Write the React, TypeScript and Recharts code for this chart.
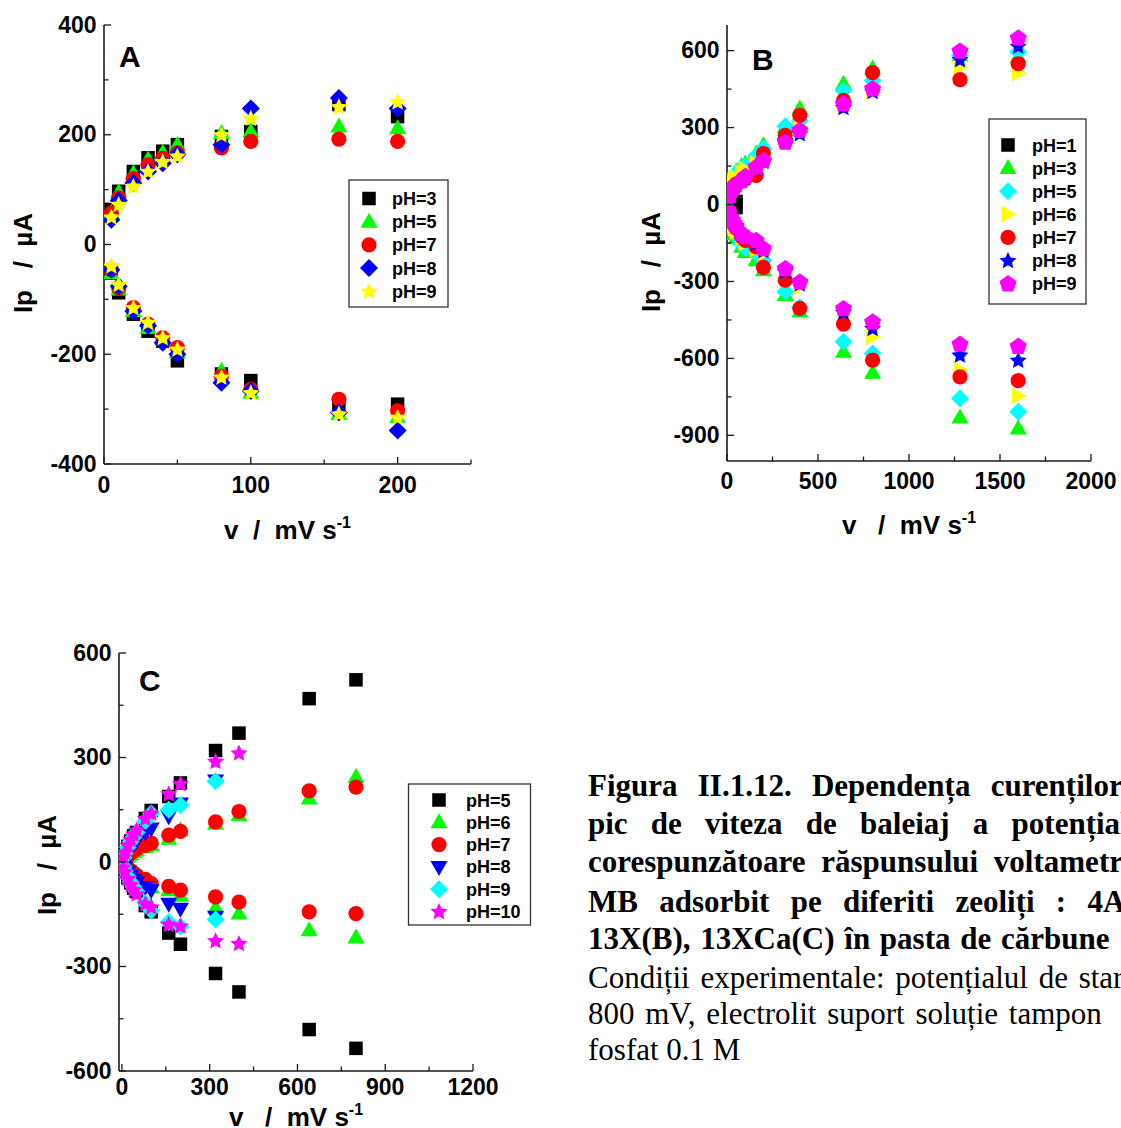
import React from 'react';
import { ScatterChart, Scatter, XAxis, YAxis } from 'recharts';

const SANS = '"Liberation Sans", Arial, Helvetica, sans-serif';
const SERIF = '"Liberation Serif", "Times New Roman", serif';
const AXIS = '#1a1a1a';
const NB = '\u00A0';

// ---------- Panel A (4A zeolite) ----------
const A_V = [5, 10, 20, 30, 40, 50, 80, 100, 160, 200];
const A_PH3_OX = [64, 97, 133, 158, 170, 182, 197, 206, 255, 233];
const A_PH3_RED = [-52, -88, -127, -158, -176, -212, -236, -248, -294, -291];
const A_PH5_OX = [58, 95, 130, 155, 167, 182, 203, 206, 215, 212];
const A_PH5_RED = [-52, -82, -121, -152, -173, -197, -230, -270, -309, -315];
const A_PH7_OX = [57, 85, 120, 145, 157, 167, 176, 188, 192, 188];
const A_PH7_RED = [-46, -79, -115, -145, -170, -188, -240, -264, -282, -303];
const A_PH8_OX = [45, 80, 112, 133, 148, 164, 182, 248, 267, 248];
const A_PH8_RED = [-46, -76, -121, -148, -179, -200, -252, -267, -306, -339];
const A_PH9_OX = [50, 73, 106, 133, 151, 161, 200, 230, 251, 260];
const A_PH9_RED = [-39, -73, -115, -142, -170, -191, -242, -270, -309, -315];
const A_X_TICKS = [0, 50, 100, 150, 200, 250];
const A_X_LABELS = [0, 100, 200];
const A_Y_TICKS = [-400, -300, -200, -100, 0, 100, 200, 300, 400];
const A_Y_LABELS = [-400, -200, 0, 200, 400];

// ---------- Panel B (13X zeolite) ----------
const B_V = [5, 10, 20, 30, 40, 50, 80, 100, 160, 200, 320, 400, 640, 800, 1280, 1600];
const B_V1 = [5, 10, 20, 30, 40, 50];
const B_PH1_OX = [4, 6, 8, 10, 11, 12];
const B_PH1_RED = [-4, -6, -8, -10, -11, -12];
const B_PH3_OX = [30, 50, 80, 100, 118, 130, 150, 160, 199, 231, 302, 374, 471, 530, 582, 575];
const B_PH3_RED = [-25, -45, -75, -95, -115, -130, -165, -185, -217, -256, -353, -417, -574, -656, -830, -873];
const B_PH5_OX = [28, 45, 72, 92, 110, 122, 140, 150, 190, 218, 305, 328, 445, 484, 580, 595];
const B_PH5_RED = [-25, -42, -70, -90, -108, -122, -155, -170, -191, -218, -340, -401, -535, -581, -756, -808];
const B_PH6_OX = [25, 40, 62, 80, 95, 105, 125, 138, 160, 186, 250, 296, 385, 441, 536, 513];
const B_PH6_RED = [-22, -38, -60, -78, -92, -105, -130, -150, -175, -191, -275, -321, -439, -516, -645, -747];
const B_PH7_OX = [22, 35, 52, 64, 72, 80, 92, 100, 114, 199, 270, 348, 406, 514, 487, 549];
const B_PH7_RED = [-20, -33, -50, -65, -80, -92, -125, -140, -165, -245, -295, -405, -466, -607, -672, -687];
const B_PH8_OX = [22, 36, 52, 62, 70, 78, 92, 105, 140, 168, 250, 276, 378, 441, 565, 617];
const B_PH8_RED = [-20, -32, -50, -60, -72, -82, -108, -120, -150, -180, -260, -310, -420, -483, -587, -607];
const B_PH9_OX = [25, 35, 50, 60, 70, 78, 95, 110, 147, 173, 244, 290, 393, 452, 599, 650];
const B_PH9_RED = [-20, -30, -50, -62, -75, -85, -112, -125, -139, -171, -249, -301, -405, -457, -544, -552];
const B_X_TICKS = [0, 250, 500, 750, 1000, 1250, 1500, 1750, 2000];
const B_X_LABELS = [0, 500, 1000, 1500, 2000];
const B_Y_TICKS = [-900, -750, -600, -450, -300, -150, 0, 150, 300, 450, 600];
const B_Y_LABELS = [-900, -600, -300, 0, 300, 600];

// ---------- Panel C (13XCa zeolite) ----------
const C_V = [5, 10, 20, 30, 40, 50, 80, 100, 160, 200, 320, 400, 640, 800];
const C_V320 = [5, 10, 20, 30, 40, 50, 80, 100, 160, 200, 320];
const C_V400 = [5, 10, 20, 30, 40, 50, 80, 100, 160, 200, 320, 400];
const C_PH5_OX = [15, 25, 45, 60, 75, 85, 125, 148, 188, 227, 320, 370, 469, 523];
const C_PH5_RED = [-15, -25, -45, -60, -75, -85, -125, -143, -204, -236, -320, -373, -481, -535];
const C_PH6_OX = [4, 8, 15, 22, 28, 33, 42, 48, 67, 91, 110, 134, 182, 244];
const C_PH6_RED = [-4, -8, -15, -22, -28, -35, -55, -73, -81, -97, -131, -148, -196, -217];
const C_PH7_OX = [5, 10, 18, 25, 32, 38, 48, 54, 77, 88, 115, 145, 204, 215];
const C_PH7_RED = [-5, -10, -18, -25, -32, -38, -50, -62, -70, -81, -100, -115, -143, -148];
const C_PH8_OX = [8, 15, 28, 40, 52, 62, 85, 96, 131, 168, 234];
const C_PH8_RED = [-8, -15, -28, -40, -50, -58, -72, -81, -120, -134, -157];
const C_PH9_OX = [12, 25, 42, 58, 72, 85, 118, 139, 150, 163, 232];
const C_PH9_RED = [-12, -25, -42, -58, -72, -85, -118, -139, -172, -186, -165];
const C_PH10_OX = [15, 28, 48, 65, 80, 92, 125, 140, 196, 225, 289, 313];
const C_PH10_RED = [-15, -28, -48, -65, -80, -92, -120, -129, -179, -184, -226, -234];
const C_X_TICKS = [0, 150, 300, 450, 600, 750, 900, 1050, 1200];
const C_X_LABELS = [0, 300, 600, 900, 1200];
const C_Y_TICKS = [-600, -450, -300, -150, 0, 150, 300, 450, 600];
const C_Y_LABELS = [-600, -300, 0, 300, 600];

// ---------- Caption ----------
const CAPTION_BOLD = [
  'Figura II.1.12. Dependența curenților de',
  'pic de viteza de baleiaj a potențialului',
  'corespunzătoare răspunsului voltametric al',
  'MB adsorbit pe diferiti zeoliți : 4A(A),',
  '13X(B), 13XCa(C) în pasta de cărbune',
];
const CAPTION_REGULAR = [
  'Condiții experimentale: potențialul de start',
  '800 mV, electrolit suport soluție tampon',
  'fosfat 0.1 M',
];
const CAPTION_WORD_SPACING = [12.5, 15.5, 8, 13.5, 2, 3, 3, 0];

type Kind = 'square' | 'triUp' | 'triDown' | 'triRight' | 'circle' | 'diamond' | 'star' | 'pentagon';
type Pt = { x: number; y: number };
type SeriesDef = { name: string; color: string; kind: Kind; data: Pt[] };

function pts(v: number[], ox: number[], red: number[]): Pt[] {
  return [...v.map((x, i) => ({ x, y: ox[i] })), ...v.map((x, i) => ({ x, y: red[i] }))];
}

function polyPoints(cx: number, cy: number, n: number, rOuter: number, rInner?: number) {
  const out: string[] = [];
  const count = rInner ? n * 2 : n;
  for (let i = 0; i < count; i++) {
    const r = rInner ? (i % 2 === 0 ? rOuter : rInner) : rOuter;
    const a = -Math.PI / 2 + (i * 2 * Math.PI) / count;
    out.push(`${cx + r * Math.cos(a)},${cy + r * Math.sin(a)}`);
  }
  return out.join(' ');
}

function Marker({ kind, cx, cy, fill }: { kind: Kind; cx: number; cy: number; fill: string }) {
  if (cx == null || cy == null || isNaN(cx) || isNaN(cy)) return null;
  switch (kind) {
    case 'square':
      return <rect x={cx - 6.75} y={cy - 6.75} width={13.5} height={13.5} fill={fill} />;
    case 'circle':
      return <circle cx={cx} cy={cy} r={7.6} fill={fill} />;
    case 'triUp':
      return <polygon points={`${cx},${cy - 9} ${cx - 8.5},${cy + 6} ${cx + 8.5},${cy + 6}`} fill={fill} />;
    case 'triDown':
      return <polygon points={`${cx},${cy + 9} ${cx - 8.5},${cy - 6} ${cx + 8.5},${cy - 6}`} fill={fill} />;
    case 'triRight':
      return <polygon points={`${cx + 8.5},${cy} ${cx - 6.5},${cy - 8.5} ${cx - 6.5},${cy + 8.5}`} fill={fill} />;
    case 'diamond':
      return <polygon points={`${cx},${cy - 9} ${cx + 9},${cy} ${cx},${cy + 9} ${cx - 9},${cy}`} fill={fill} />;
    case 'star':
      return <polygon points={polyPoints(cx, cy + 0.5, 5, 9, 4.3)} fill={fill} />;
    case 'pentagon':
      return <polygon points={polyPoints(cx, cy + 0.5, 5, 9)} fill={fill} />;
  }
  return null;
}

const A_SERIES: SeriesDef[] = [
  { name: 'pH=3', color: '#000000', kind: 'square', data: pts(A_V, A_PH3_OX, A_PH3_RED) },
  { name: 'pH=5', color: '#00FF00', kind: 'triUp', data: pts(A_V, A_PH5_OX, A_PH5_RED) },
  { name: 'pH=7', color: '#FF0000', kind: 'circle', data: pts(A_V, A_PH7_OX, A_PH7_RED) },
  { name: 'pH=8', color: '#0000FF', kind: 'diamond', data: pts(A_V, A_PH8_OX, A_PH8_RED) },
  { name: 'pH=9', color: '#FFFF00', kind: 'star', data: pts(A_V, A_PH9_OX, A_PH9_RED) },
];
const B_SERIES: SeriesDef[] = [
  { name: 'pH=1', color: '#000000', kind: 'square', data: pts(B_V1, B_PH1_OX, B_PH1_RED) },
  { name: 'pH=3', color: '#00FF00', kind: 'triUp', data: pts(B_V, B_PH3_OX, B_PH3_RED) },
  { name: 'pH=5', color: '#00FFFF', kind: 'diamond', data: pts(B_V, B_PH5_OX, B_PH5_RED) },
  { name: 'pH=6', color: '#FFFF00', kind: 'triRight', data: pts(B_V, B_PH6_OX, B_PH6_RED) },
  { name: 'pH=7', color: '#FF0000', kind: 'circle', data: pts(B_V, B_PH7_OX, B_PH7_RED) },
  { name: 'pH=8', color: '#0000FF', kind: 'star', data: pts(B_V, B_PH8_OX, B_PH8_RED) },
  { name: 'pH=9', color: '#FF00FF', kind: 'pentagon', data: pts(B_V, B_PH9_OX, B_PH9_RED) },
];
const C_SERIES: SeriesDef[] = [
  { name: 'pH=5', color: '#000000', kind: 'square', data: pts(C_V, C_PH5_OX, C_PH5_RED) },
  { name: 'pH=6', color: '#00FF00', kind: 'triUp', data: pts(C_V, C_PH6_OX, C_PH6_RED) },
  { name: 'pH=7', color: '#FF0000', kind: 'circle', data: pts(C_V, C_PH7_OX, C_PH7_RED) },
  { name: 'pH=8', color: '#0000FF', kind: 'triDown', data: pts(C_V320, C_PH8_OX, C_PH8_RED) },
  { name: 'pH=9', color: '#00FFFF', kind: 'diamond', data: pts(C_V320, C_PH9_OX, C_PH9_RED) },
  { name: 'pH=10', color: '#FF00FF', kind: 'star', data: pts(C_V400, C_PH10_OX, C_PH10_RED) },
];

const makeXTick = (labels: number[], dy: number) => (props: any) => {
  const { x, y, payload } = props;
  const major = labels.includes(payload.value);
  return (
    <g>
      <line x1={x} x2={x} y1={y} y2={y - (major ? 7 : 4.5)} stroke={AXIS} strokeWidth={1.3} />
      {major && (
        <text x={x} y={y + dy} textAnchor="middle" fontFamily={SANS} fontWeight="bold" fontSize={23} fill="#000">
          {String(payload.value)}
        </text>
      )}
    </g>
  );
};

const makeYTick = (labels: number[]) => (props: any) => {
  const { x, y, payload } = props;
  const major = labels.includes(payload.value);
  return (
    <g>
      <line x1={x} x2={x + (major ? 7 : 4.5)} y1={y} y2={y} stroke={AXIS} strokeWidth={1.3} />
      {major && (
        <text x={x - 7.5} y={y + 7.5} textAnchor="end" fontFamily={SANS} fontWeight="bold" fontSize={23} fill="#000">
          {String(payload.value)}
        </text>
      )}
    </g>
  );
};

const makeXTitle = (gapA: number, gapB: number, dy: number) => (props: any) => {
  const vb = props.viewBox || { x: 0, y: 0, width: 0, height: 0 };
  const cx = vb.x + vb.width / 2;
  return (
    <text x={cx} y={vb.y + dy} textAnchor="middle" fontFamily={SANS} fontWeight="bold" fontSize={26} fill="#000">
      <tspan>{'v' + NB.repeat(gapA) + '/' + NB.repeat(gapB) + 'mV s'}</tspan>
      <tspan dy={-11} fontSize={16}>-1</tspan>
    </text>
  );
};

const makeYTitle = (bx: number, cyOff: number) => (props: any) => {
  const vb = props.viewBox || { x: 0, y: 0, width: 0, height: 0 };
  const x = vb.x + bx;
  const y = vb.y + vb.height / 2 + cyOff;
  return (
    <text x={x} y={y} transform={`rotate(-90 ${x} ${y})`} textAnchor="middle" fontFamily={SANS} fontWeight="bold" fontSize={26} fill="#000">
      {'Ip' + NB.repeat(3) + '/' + NB.repeat(2) + '\u00B5A'}
    </text>
  );
};

type PanelProps = {
  width: number;
  height: number;
  margin: { top: number; right: number; bottom: number; left: number };
  yAxisWidth: number;
  xAxisHeight: number;
  xDomain: [number, number];
  yDomain: [number, number];
  xTicks: number[];
  xLabels: number[];
  yTicks: number[];
  yLabels: number[];
  xTickDy: number;
  series: SeriesDef[];
  xTitle: (p: any) => any;
  yTitle: (p: any) => any;
};

function Panel(p: PanelProps) {
  const line = { stroke: AXIS, strokeWidth: 1.6 };
  return (
    <ScatterChart width={p.width} height={p.height} margin={p.margin}>
      <XAxis
        type="number"
        dataKey="x"
        domain={p.xDomain}
        ticks={p.xTicks}
        interval={0}
        allowDataOverflow
        height={p.xAxisHeight}
        tickSize={0}
        tickMargin={0}
        tickLine={false}
        axisLine={line}
        tick={makeXTick(p.xLabels, p.xTickDy)}
        label={p.xTitle}
      />
      <YAxis
        type="number"
        dataKey="y"
        domain={p.yDomain}
        ticks={p.yTicks}
        interval={0}
        allowDataOverflow
        width={p.yAxisWidth}
        tickSize={0}
        tickMargin={0}
        tickLine={false}
        axisLine={line}
        tick={makeYTick(p.yLabels)}
        label={p.yTitle}
      />
      <XAxis xAxisId="top" orientation="top" type="number" domain={p.xDomain} allowDataOverflow height={0} tick={false} tickLine={false} axisLine={line} />
      <YAxis yAxisId="right" orientation="right" type="number" domain={p.yDomain} allowDataOverflow width={0} tick={false} tickLine={false} axisLine={line} />
      {p.series.map((s) => (
        <Scatter
          key={s.name}
          name={s.name}
          data={s.data}
          fill={s.color}
          isAnimationActive={false}
          shape={(sp: any) => <Marker kind={s.kind} cx={sp.cx} cy={sp.cy} fill={s.color} />}
        />
      ))}
    </ScatterChart>
  );
}

function LegendBox({ x, y, w, h, rowY0, rowStep, markerX, textX, series }: any) {
  return (
    <g>
      <rect x={x} y={y} width={w} height={h} fill="#fff" stroke="#333" strokeWidth={1.3} />
      {series.map((s: SeriesDef, i: number) => {
        const cy = rowY0 + i * rowStep;
        return (
          <g key={s.name}>
            <Marker kind={s.kind} cx={markerX} cy={cy} fill={s.color} />
            <text x={textX} y={cy + 6.5} fontFamily={SANS} fontWeight="bold" fontSize={18} fill="#000">
              {s.name}
            </text>
          </g>
        );
      })}
    </g>
  );
}

const CAPTION_BASELINES = [795.5, 834, 872, 911.5, 948.5, 987.5, 1024, 1060];

export default function App() {
  return (
    <div style={{ position: 'absolute', left: 0, top: 0, width: 1121, height: 1128, overflow: 'hidden', background: '#fff' }}>
      <div style={{ position: 'absolute', left: 0, top: 0 }}>
        <Panel
          width={560}
          height={560}
          margin={{ top: 25, right: 89, bottom: 0, left: 0 }}
          yAxisWidth={104}
          xAxisHeight={96}
          xDomain={[0, 250]}
          yDomain={[-400, 400]}
          xTicks={A_X_TICKS}
          xLabels={A_X_LABELS}
          yTicks={A_Y_TICKS}
          yLabels={A_Y_LABELS}
          xTickDy={28.5}
          series={A_SERIES}
          xTitle={makeXTitle(2, 2, 75)}
          yTitle={makeYTitle(31.5, 18.5)}
        />
      </div>
      <div style={{ position: 'absolute', left: 600, top: 0 }}>
        <Panel
          width={521}
          height={560}
          margin={{ top: 25, right: 30, bottom: 0, left: 0 }}
          yAxisWidth={127}
          xAxisHeight={99}
          xDomain={[0, 2000]}
          yDomain={[-1000, 700]}
          xTicks={B_X_TICKS}
          xLabels={B_X_LABELS}
          yTicks={B_Y_TICKS}
          yLabels={B_Y_LABELS}
          xTickDy={27.5}
          series={B_SERIES}
          xTitle={makeXTitle(3, 2, 73)}
          yTitle={makeYTitle(60, 19)}
        />
      </div>
      <div style={{ position: 'absolute', left: 0, top: 600 }}>
        <Panel
          width={560}
          height={528}
          margin={{ top: 53, right: 87, bottom: 0, left: 0 }}
          yAxisWidth={119}
          xAxisHeight={57}
          xDomain={[-10, 1200]}
          yDomain={[-600, 600]}
          xTicks={C_X_TICKS}
          xLabels={C_X_LABELS}
          yTicks={C_Y_TICKS}
          yLabels={C_Y_LABELS}
          xTickDy={24}
          series={C_SERIES}
          xTitle={makeXTitle(3, 2, 54.5)}
          yTitle={makeYTitle(56, 3)}
        />
      </div>
      <svg style={{ position: 'absolute', left: 0, top: 0, pointerEvents: 'none' }} width={1121} height={1128}>
        <text x={119} y={66.5} fontFamily={SANS} fontWeight="bold" fontSize={30} fill="#000">A</text>
        <text x={752} y={70} fontFamily={SANS} fontWeight="bold" fontSize={30} fill="#000">B</text>
        <text x={139} y={690.5} fontFamily={SANS} fontWeight="bold" fontSize={30} fill="#000">C</text>
        <LegendBox x={349} y={180} w={99} h={127} rowY0={198.5} rowStep={23.2} markerX={369} textX={392} series={A_SERIES} />
        <LegendBox x={989} y={119} w={97} h={185} rowY0={145} rowStep={23.1} markerX={1008} textX={1032} series={B_SERIES} />
        <LegendBox x={408.5} y={784} w={122} h={141} rowY0={800} rowStep={22.3} markerX={439} textX={466} series={C_SERIES} />
        {[...CAPTION_BOLD, ...CAPTION_REGULAR].map((t, i) => (
          <text
            key={i}
            x={588}
            y={CAPTION_BASELINES[i]}
            fontFamily={SERIF}
            fontWeight={i < CAPTION_BOLD.length ? 'bold' : 'normal'}
            fontSize={31}
            fill="#000"
            style={{ wordSpacing: `${CAPTION_WORD_SPACING[i]}px` }}
          >
            {t}
          </text>
        ))}
      </svg>
    </div>
  );
}
